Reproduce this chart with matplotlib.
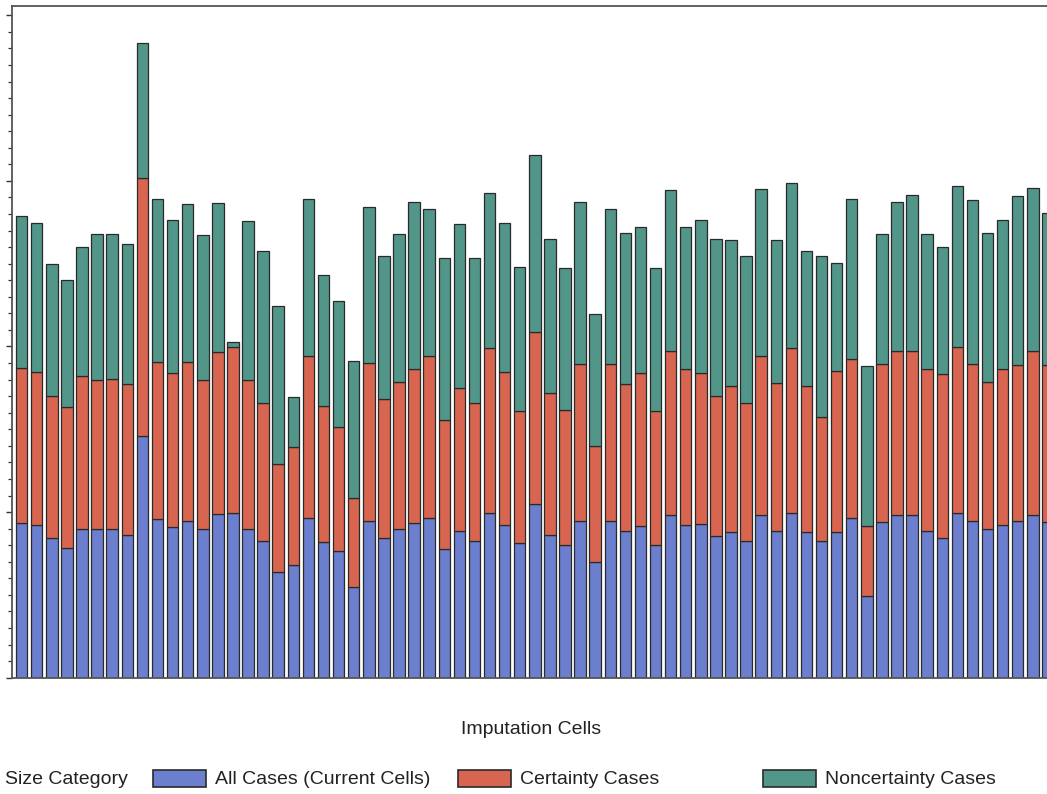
import matplotlib
matplotlib.use("Agg")
import matplotlib.pyplot as plt
from matplotlib.patches import Rectangle
from matplotlib.ticker import MultipleLocator
import numpy as np

plt.rcParams['font.family'] = ['Liberation Sans', 'DejaVu Sans']

# Stacked segment values per imputation cell
all_cases = [9.34, 9.22, 8.44, 7.83, 8.98, 8.98, 8.98, 8.62, 14.60, 9.58,
             9.10, 9.46, 8.98, 9.89, 9.95, 8.98, 8.25, 6.38, 6.81, 9.64,
             8.19, 7.65, 5.48, 9.46, 8.44, 8.98, 9.34, 9.64, 7.77, 8.86,
             8.25, 9.95, 9.22, 8.13, 10.49, 8.62, 8.01, 9.46, 6.99, 9.46,
             8.86, 9.16, 8.01, 9.82, 9.22, 9.28, 8.56, 8.80, 8.25, 9.82,
             8.86, 9.95, 8.80, 8.25, 8.80, 9.64, 4.93, 9.40, 9.82, 9.82,
             8.86, 8.44, 9.95, 9.46, 8.98, 9.22, 9.46, 9.82, 9.40]
certainty = [9.36, 9.24, 8.57, 8.51, 9.24, 9.00, 9.06, 9.12, 15.58, 9.48,
             9.30, 9.60, 9.00, 9.78, 10.02, 9.00, 8.33, 6.52, 7.13, 9.78,
             8.21, 7.49, 5.37, 9.54, 8.39, 8.88, 9.30, 9.78, 7.79, 8.64,
             8.33, 9.96, 9.24, 7.97, 10.39, 8.57, 8.15, 9.48, 7.00, 9.48,
             8.88, 9.24, 8.09, 9.90, 9.42, 9.12, 8.45, 8.82, 8.33, 9.60,
             8.94, 9.96, 8.82, 7.49, 9.72, 9.60, 4.23, 9.54, 9.90, 9.90,
             9.78, 9.90, 10.02, 9.48, 8.88, 9.42, 9.42, 9.90, 9.48]
noncertainty = [9.18, 9.00, 7.97, 7.67, 7.79, 8.82, 8.76, 8.45, 8.15, 9.84,
                9.24, 9.54, 8.76, 9.00, 0.30, 9.60, 9.18, 9.54, 3.02, 9.48,
                7.91, 7.61, 8.27, 9.42, 8.64, 8.94, 10.08, 8.88, 9.78, 9.90,
                8.76, 9.36, 9.00, 8.70, 10.69, 9.30, 8.57, 9.78, 7.97, 9.36,
                9.12, 8.82, 8.64, 9.72, 8.57, 9.24, 9.48, 8.82, 8.88, 10.08,
                8.64, 9.96, 8.15, 9.72, 6.52, 9.66, 9.66, 7.85, 9.00, 9.42,
                8.15, 7.67, 9.72, 9.90, 9.00, 9.00, 10.21, 9.84, 9.18]

series_labels = ["All Cases (Current Cells)", "Certainty Cases", "Noncertainty Cases"]
colors = ["#6b7fce", "#d8654f", "#52968a"]
edge = "#2a2a2a"

W, H = 1047, 794
fig = plt.figure(figsize=(W / 100, H / 100), dpi=100)

def fx(px):
    return px / W

def fy(py):
    return 1 - py / H

ax_left, ax_right, ax_top, ax_bottom = 12, 1060, 6, 677.7
ax = fig.add_axes([fx(ax_left), fy(ax_bottom), fx(ax_right - ax_left), (ax_bottom - ax_top) / H])

x = np.arange(len(all_cases))
a = np.array(all_cases)
c = np.array(certainty)
n = np.array(noncertainty)
bw = 0.76
ax.bar(x, a, width=bw, color=colors[0], edgecolor=edge, linewidth=0.9)
ax.bar(x, c, width=bw, bottom=a, color=colors[1], edgecolor=edge, linewidth=0.9)
ax.bar(x, n, width=bw, bottom=a + c, color=colors[2], edgecolor=edge, linewidth=0.9)

ax.set_xlim(-0.64, 68.8)
ax.set_ylim(0, 40.56)
ax.set_xticks([])
ax.yaxis.set_major_locator(MultipleLocator(10))
ax.yaxis.set_minor_locator(MultipleLocator(1))
ax.tick_params(axis='y', which='major', length=4.5, width=1, color='#333', labelleft=False)
ax.tick_params(axis='y', which='minor', length=2.8, width=0.9, color='#333')
for s in ax.spines.values():
    s.set_color('#555')
    s.set_linewidth(1.3)

txt = '#222222'
fig.text(fx(531), fy(729), "Imputation Cells", ha='center', va='center', fontsize=14, color=txt)

# legend
ly = 779
fig.text(fx(5), fy(ly), "Size Category", ha='left', va='center', fontsize=14, color=txt)
patch_x = [153, 458, 763]
for px_, col, lab in zip(patch_x, colors, series_labels):
    fig.add_artist(Rectangle((fx(px_), fy(787)), fx(53), 17 / H, transform=fig.transFigure,
                             facecolor=col, edgecolor=edge, linewidth=1.2))
    fig.text(fx(px_ + 62), fy(ly), lab, ha='left', va='center', fontsize=14, color=txt)

fig.savefig("out.png", dpi=100)
